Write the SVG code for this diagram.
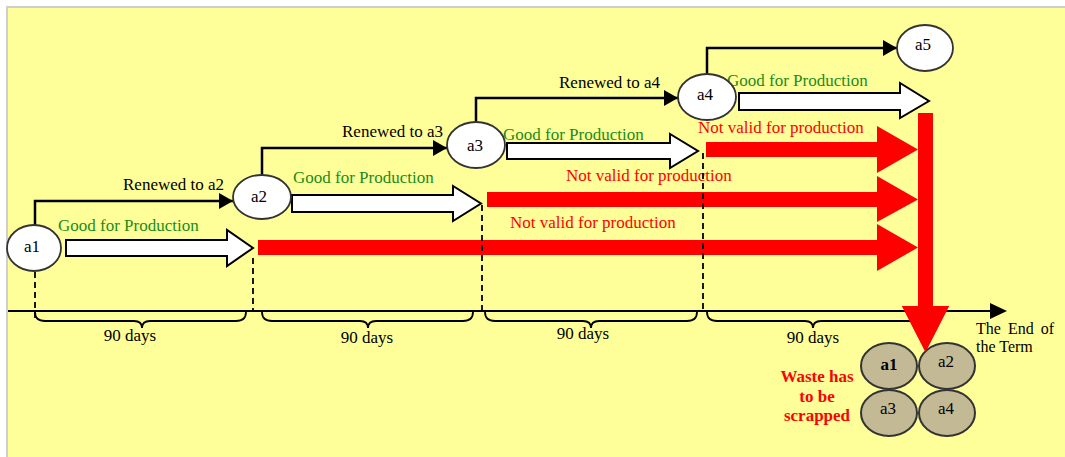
<svg xmlns="http://www.w3.org/2000/svg" width="1065" height="457" viewBox="0 0 1065 457">
  <defs>
    <marker id="tip" markerUnits="userSpaceOnUse" markerWidth="14" markerHeight="16" refX="14" refY="8" orient="auto">
      <path d="M0,0 L14,8 L0,16 Z" fill="#000"/>
    </marker>
    <style>
      text { font-family: "Liberation Serif", "Times New Roman", serif; }
      .lbl { font-size: 17px; fill: #000; }
      .good { font-size: 17px; fill: #1a8c1a; }
      .bad { font-size: 17px; fill: #ff0000; }
      .node ellipse { fill: #fff; stroke: #333; stroke-width: 1.8; }
      .node text { font-size: 17px; fill: #000; text-anchor: middle; }
      .waste ellipse { fill: #c4b995; stroke: #333; stroke-width: 2; }
      .waste text { font-size: 17px; fill: #000; text-anchor: middle; }
      .renew { fill: none; stroke: #000; stroke-width: 2.5; marker-end: url(#tip); }
      .hollow { fill: #fff; stroke: #000; stroke-width: 2; stroke-linejoin: miter; }
      .red { fill: #ff0000; }
      .dash { stroke: #000; stroke-width: 1.8; stroke-dasharray: 6 4; fill: none; }
      .brace { fill: none; stroke: #000; stroke-width: 1.8; }
    </style>
  </defs>

  <!-- page frame -->
  <rect x="0" y="0" width="1065" height="457" fill="#fff"/>
  <rect x="6" y="6" width="1059" height="451" fill="#cfcfcf"/>
  <rect x="8" y="8" width="1057" height="449" fill="#ffff99"/>

  <!-- timeline -->
  <g id="timeline">
    <line x1="8" y1="311" x2="992" y2="311" stroke="#000" stroke-width="2.2"/>
    <path d="M990,303 L1007,311 L990,319 Z" fill="#000"/>
    <path class="brace" d="M35,312 Q35,321 45,321 L134,321 Q142,321 142,328 Q142,321 150,321 L236,321 Q246,321 246,312"/>
    <path class="brace" d="M262,312 Q262,321 272,321 L360,321 Q368,321 368,328 Q368,321 376,321 L463,321 Q473,321 473,312"/>
    <path class="brace" d="M485,312 Q485,321 495,321 L583,321 Q591,321 591,328 Q591,321 599,321 L687,321 Q697,321 697,312"/>
    <path class="brace" d="M707,312 Q707,321 717,321 L805,321 Q813,321 813,328 Q813,321 821,321 L909,321 Q919,321 919,312"/>
    <text class="lbl" x="130" y="341" text-anchor="middle">90 days</text>
    <text class="lbl" x="367" y="343" text-anchor="middle">90 days</text>
    <text class="lbl" x="583" y="339" text-anchor="middle">90 days</text>
    <text class="lbl" x="813" y="343" text-anchor="middle">90 days</text>
    <text x="976" y="334" font-size="16" word-spacing="3">The End of</text>
    <text x="976" y="352" font-size="16">the Term</text>
  </g>

  <!-- validity arrows: good periods -->
  <g id="good-periods">
    <polygon class="hollow" points="66,240 227,240 227,230 253,248 227,266 227,256 66,256"/>
    <polygon class="hollow" points="292,195 453,195 453,186 481,203.5 453,221 453,212 292,212"/>
    <polygon class="hollow" points="507,143 670,143 670,134 698,151 670,168 670,159 507,159"/>
    <polygon class="hollow" points="739,93 900,93 900,83 929,101 900,118 900,110 739,110"/>
    <text class="good" x="58" y="231">Good for Production</text>
    <text class="good" x="293" y="183">Good for Production</text>
    <text class="good" x="503" y="140">Good for Production</text>
    <text class="good" x="727" y="86">Good for Production</text>
  </g>

  <!-- expired periods -->
  <g id="invalid-periods">
    <polygon class="red" points="706,142 877,142 877,126 918,149.5 877,173 877,157 706,157"/>
    <polygon class="red" points="487,192 877,192 877,176 918,199.5 877,222 877,207 487,207"/>
    <polygon class="red" points="258,240 877,240 877,224 918,247.5 877,271 877,255 258,255"/>
    <polygon class="red" points="918,113 933,113 933,306 949,306 925.5,352 902,306 918,306"/>
    <text class="bad" x="698" y="133">Not valid for production</text>
    <text class="bad" x="566" y="181">Not valid for production</text>
    <text class="bad" x="510" y="228">Not valid for production</text>
  </g>

  <!-- period boundaries -->
  <g id="boundaries">
    <line class="dash" x1="35" y1="272" x2="35" y2="319"/>
    <line class="dash" x1="253" y1="258" x2="253" y2="311"/>
    <line class="dash" x1="482" y1="205" x2="482" y2="311"/>
    <line class="dash" x1="703" y1="153" x2="703" y2="311"/>
  </g>

  <!-- renewal connectors -->
  <g id="connectors">
    <path class="renew" d="M35,225 V201 H233"/>
    <path class="renew" d="M262,175 V148 H447"/>
    <path class="renew" d="M476,123 V98 H678"/>
    <path class="renew" d="M707,74 V48 H897"/>
    <text class="lbl" x="123" y="190">Renewed to a2</text>
    <text class="lbl" x="342" y="137">Renewed to a3</text>
    <text class="lbl" x="559" y="88">Renewed to a4</text>
  </g>

  <!-- lots -->
  <g id="a1" class="node"><ellipse cx="34" cy="248" rx="27" ry="23"/><text x="32" y="252">a1</text></g>
  <g id="a2" class="node"><ellipse cx="262" cy="197" rx="29" ry="22"/><text x="259" y="202">a2</text></g>
  <g id="a3" class="node"><ellipse cx="476" cy="145" rx="29" ry="23"/><text x="475" y="151">a3</text></g>
  <g id="a4" class="node"><ellipse cx="707" cy="97" rx="29" ry="23"/><text x="705" y="100">a4</text></g>
  <g id="a5" class="node"><ellipse cx="925" cy="48" rx="28" ry="23"/><text x="923" y="50">a5</text></g>

  <!-- scrapped lots -->
  <g id="waste">
    <g id="waste-a1" class="waste"><ellipse cx="889" cy="366" rx="28" ry="23"/><text x="889" y="370" font-weight="bold">a1</text></g>
    <g id="waste-a2" class="waste"><ellipse cx="947" cy="366" rx="28" ry="23"/><text x="946" y="367">a2</text></g>
    <g id="waste-a3" class="waste"><ellipse cx="889" cy="413" rx="28" ry="23"/><text x="888" y="414">a3</text></g>
    <g id="waste-a4" class="waste"><ellipse cx="947" cy="413" rx="28" ry="23"/><text x="946" y="414">a4</text></g>
    <polygon class="red" points="902,306 949,306 925.5,352"/>
    <g font-size="17" font-weight="bold" fill="#ff0000" text-anchor="middle">
      <text x="817" y="382">Waste has</text>
      <text x="817" y="402">to be</text>
      <text x="817" y="421">scrapped</text>
    </g>
  </g>
</svg>
